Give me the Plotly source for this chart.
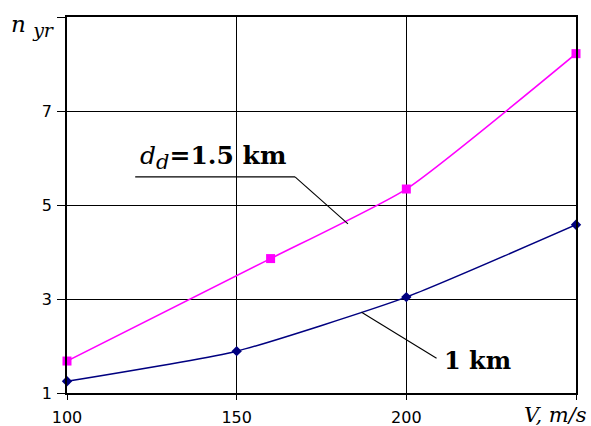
import plotly.graph_objects as go

# Data
v_pink = [100, 160, 200, 250]
n_pink = [1.68, 3.86, 5.34, 8.22]
v_blue = [100, 150, 200, 250]
n_blue = [1.25, 1.89, 3.04, 4.58]
x_tickvals = [100, 150, 200, 250]
x_ticktext = ["100", "150", "200", ""]
y_tickvals = [1, 3, 5, 7, 9]
y_ticktext = ["1", "3", "5", "7", ""]

fig = go.Figure()
fig.add_trace(go.Scatter(
    x=v_pink, y=n_pink, mode="lines+markers",
    line=dict(color="#FF00FF", width=1.5, shape="spline", smoothing=0.5),
    marker=dict(symbol="square", size=9, color="#FF00FF"),
    showlegend=False, cliponaxis=False, hoverinfo="skip"))
fig.add_trace(go.Scatter(
    x=v_blue, y=n_blue, mode="lines+markers",
    line=dict(color="#000080", width=1.5, shape="spline", smoothing=0.5),
    marker=dict(symbol="diamond", size=8, color="#000080"),
    showlegend=False, cliponaxis=False, hoverinfo="skip"))

# callout lines
fig.add_shape(type="line", x0=120.1, y0=5.60, x1=167.2, y1=5.60,
              line=dict(color="black", width=1.3))
fig.add_shape(type="line", x0=167.2, y0=5.60, x1=182.8, y1=4.60,
              line=dict(color="black", width=1.1))
fig.add_shape(type="line", x0=186.8, y0=2.72, x1=208.9, y1=1.74,
              line=dict(color="black", width=1.1))

serif = "DejaVu Serif, serif"
fig.add_annotation(x=121, y=5.62, xref="x", yref="y", xanchor="left", yanchor="bottom",
                   text="<i>d</i><sub><i><span style='font-size:21px'>d</span></i></sub>"
                        "<b>=1.5 km</b>", showarrow=False,
                   font=dict(family=serif, size=25, color="black"))
fig.add_annotation(x=210.5, y=1.7, xref="x", yref="y", xanchor="left", yanchor="middle",
                   text="<b>1 km</b>", showarrow=False,
                   font=dict(family=serif, size=24, color="black"))
fig.add_annotation(x=0, y=1, xref="paper", yref="paper", xanchor="right", yanchor="top",
                   xshift=-10, yshift=8,
                   text="<i>n</i> <sub><i><span style='font-size:19px'>yr</span></i></sub>",
                   showarrow=False,
                   font=dict(family=serif, size=23, color="black"))
fig.add_annotation(x=1.0, y=0, xref="paper", yref="paper", xanchor="right", yanchor="top",
                   yshift=-8, xshift=13,
                   text="<i>V, m/s</i>", showarrow=False,
                   font=dict(family=serif, size=21, color="black"))

axis_common = dict(showline=True, linecolor="black", linewidth=1.5, mirror=True,
                   showgrid=True, gridcolor="black", gridwidth=1.3, automargin=False,
                   ticks="outside", tickcolor="black", zeroline=False,
                   tickfont=dict(family="DejaVu Sans, sans-serif", size=16, color="black"))
fig.update_xaxes(range=[100, 250], tickvals=x_tickvals, ticktext=x_ticktext,
                 ticklen=5, ticklabelstandoff=4, **axis_common)
fig.update_yaxes(range=[1, 9], tickvals=y_tickvals, ticktext=y_ticktext,
                 ticklen=8, ticklabelstandoff=2, **axis_common)

fig.update_layout(width=591, height=426, plot_bgcolor="white", paper_bgcolor="white",
                  margin=dict(l=66.5, r=14.5, t=17, b=33))
fig.write_html("out.html", config={"displayModeBar": False},
               post_script="document.body.style.margin='0';")
